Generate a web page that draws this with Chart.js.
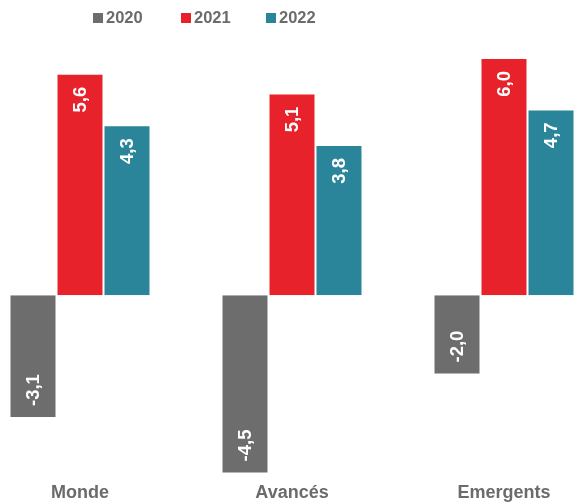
<!DOCTYPE html>
<html>
<head>
<meta charset="utf-8">
<script src="https://cdn.jsdelivr.net/npm/chart.js@4/dist/chart.umd.min.js"></script>
<style>
  html, body { margin: 0; padding: 0; background: #fff; overflow: hidden; }
  #wrap { position: relative; width: 577px; height: 502px; overflow: hidden; }
  #box { position: absolute; left: -26px; top: 0; width: 636px; height: 513px; }
  #legend { position: absolute; top: 8px; left: 93px; font: bold 16.5px "Liberation Sans", Arial, sans-serif; color: #6b6b6b; }
  #legend span.item { position: absolute; white-space: nowrap; line-height: 19px; }
  #legend i { display: inline-block; width: 10px; height: 10px; margin-right: 3px; vertical-align: 0px; }
</style>
</head>
<body>
<div id="wrap">
  <div id="box"><canvas id="growth-chart" width="636" height="513"></canvas></div>
  <div id="legend"></div>
</div>
<script>
var regions = ['Monde', 'Avancés', 'Emergents'];
var years = ['2020', '2021', '2022'];
var growth2020 = [-3.1, -4.5, -2.0];
var growth2021 = [5.6, 5.1, 6.0];
var growth2022 = [4.3, 3.8, 4.7];
var yearColors = ['#6d6d6d', '#e8222b', '#2b859a'];
var legendOffsets = [0, 88, 173];

// legend above the bars
var legendBox = document.getElementById('legend');
for (var i = 0; i < years.length; i++) {
    var item = document.createElement('span');
    item.className = 'item';
    item.style.left = legendOffsets[i] + 'px';
    item.innerHTML = '<i style="background:' + yearColors[i] + '"></i>' + years[i];
    legendBox.appendChild(item);
}

// white rotated value written inside the end of each bar
var barValues = {
    id: 'barValues',
    afterDatasetsDraw: function(chart) {
        var ctx = chart.ctx;
        ctx.save();
        ctx.font = 'bold 18.5px "Liberation Sans", Arial, sans-serif';
        ctx.fillStyle = '#ffffff';
        ctx.textBaseline = 'middle';
        chart.data.datasets.forEach(function(ds, di) {
            chart.getDatasetMeta(di).data.forEach(function(bar, i) {
                var v = ds.data[i];
                var txt = v.toFixed(1).replace('.', ',');
                ctx.save();
                ctx.translate(bar.x, bar.y);
                ctx.rotate(-Math.PI / 2);
                if (v >= 0) {
                    ctx.textAlign = 'right';
                    ctx.fillText(txt, -13, 1);
                } else {
                    ctx.textAlign = 'left';
                    ctx.fillText(txt, 12, 1);
                }
                ctx.restore();
            });
        });
        ctx.restore();
    }
};

var seriesData = [growth2020, growth2021, growth2022];
var datasets = [];
for (var d = 0; d < years.length; d++) {
    datasets.push({
        label: years[d],
        data: seriesData[d],
        backgroundColor: yearColors[d],
        borderColor: 'rgba(255,255,255,0.35)',
        borderWidth: 1,
        categoryPercentage: 0.665,
        barPercentage: 1.0
    });
}

new Chart(document.getElementById('growth-chart').getContext('2d'), {
    type: 'bar',
    data: { labels: regions, datasets: datasets },
    options: {
        responsive: false,
        animation: false,
        layout: { padding: { top: 58, left: 0, right: 0, bottom: 0 } },
        plugins: {
            legend: { display: false },
            tooltip: { enabled: false }
        },
        scales: {
            x: {
                grid: { display: false, drawTicks: false },
                border: { display: false },
                ticks: {
                    padding: 9,
                    color: '#6b6b6b',
                    font: { family: '"Liberation Sans", Arial, sans-serif', size: 18, weight: 'bold' }
                }
            },
            y: {
                display: false,
                min: -4.5,
                max: 6.0
            }
        }
    },
    plugins: [barValues]
});
</script>
</body>
</html>
